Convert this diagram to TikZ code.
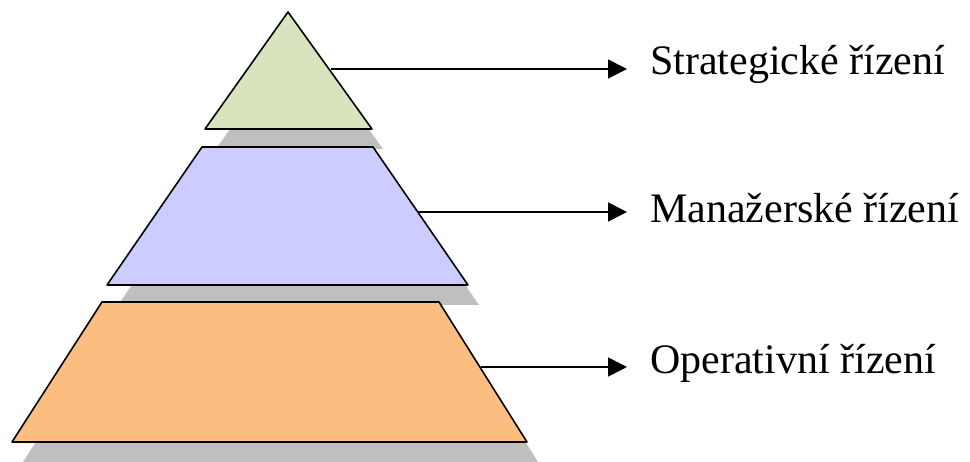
\documentclass[tikz,border=0pt]{standalone}
\usepackage{fontspec}
\setmainfont{Liberation Serif}
\usetikzlibrary{arrows.meta}
\definecolor{lvltop}{RGB}{215,228,189}
\definecolor{lvlmid}{RGB}{204,204,255}
\definecolor{lvlbot}{RGB}{252,190,128}

\begin{document}
\begin{tikzpicture}[
    x=1pt, y=-1pt,
    >={Triangle[length=19pt,width=19pt]},
    every node/.style={font=\fontsize{42}{48}\selectfont},
    level/.style={draw=black, line width=1.6pt, line join=round},
    shade/.style={fill=gray!50, draw=none},
    lbl/.style={anchor=base west, inner sep=0pt},
    link/.style={->, line width=1.6pt, shorten >=23pt},
  ]
  \useasboundingbox (0,0) rectangle (970,462);
  % shadows first, so the next level covers them
  \foreach \ax/\bx/\cx/\dx/\ty/\by in {288/288/372/205/12/129,
      202/373/468/107/147/285, 102/439/527/12/302/442}
    \fill[shade] (\ax+11,\ty+20) -- (\bx+11,\ty+20) -- (\cx+11,\by+20)
      -- (\dx+11,\by+20) -- cycle;
  \draw[level, fill=lvltop] (288,12) -- (372,129) -- (205,129) -- cycle;
  \draw[level, fill=lvlmid] (202,147) -- (373,147) -- (468,285) -- (107,285) -- cycle;
  \draw[level, fill=lvlbot] (102,302) -- (439,302) -- (527,442) -- (12,442) -- cycle;
  \coordinate (e1) at (331,69);
  \coordinate (e2) at (418,212);
  \coordinate (e3) at (481,367);
  \node[lbl] (l1) at (650,75)  {Strategické řízení};
  \node[lbl] (l2) at (650,223) {Manažerské řízení};
  \node[lbl] (l3) at (650,374) {Operativní řízení};
  \draw[link] (e1) -- (e1 -| l1.west);
  \draw[link] (e2) -- (e2 -| l2.west);
  \draw[link] (e3) -- (e3 -| l3.west);
\end{tikzpicture}
\end{document}
